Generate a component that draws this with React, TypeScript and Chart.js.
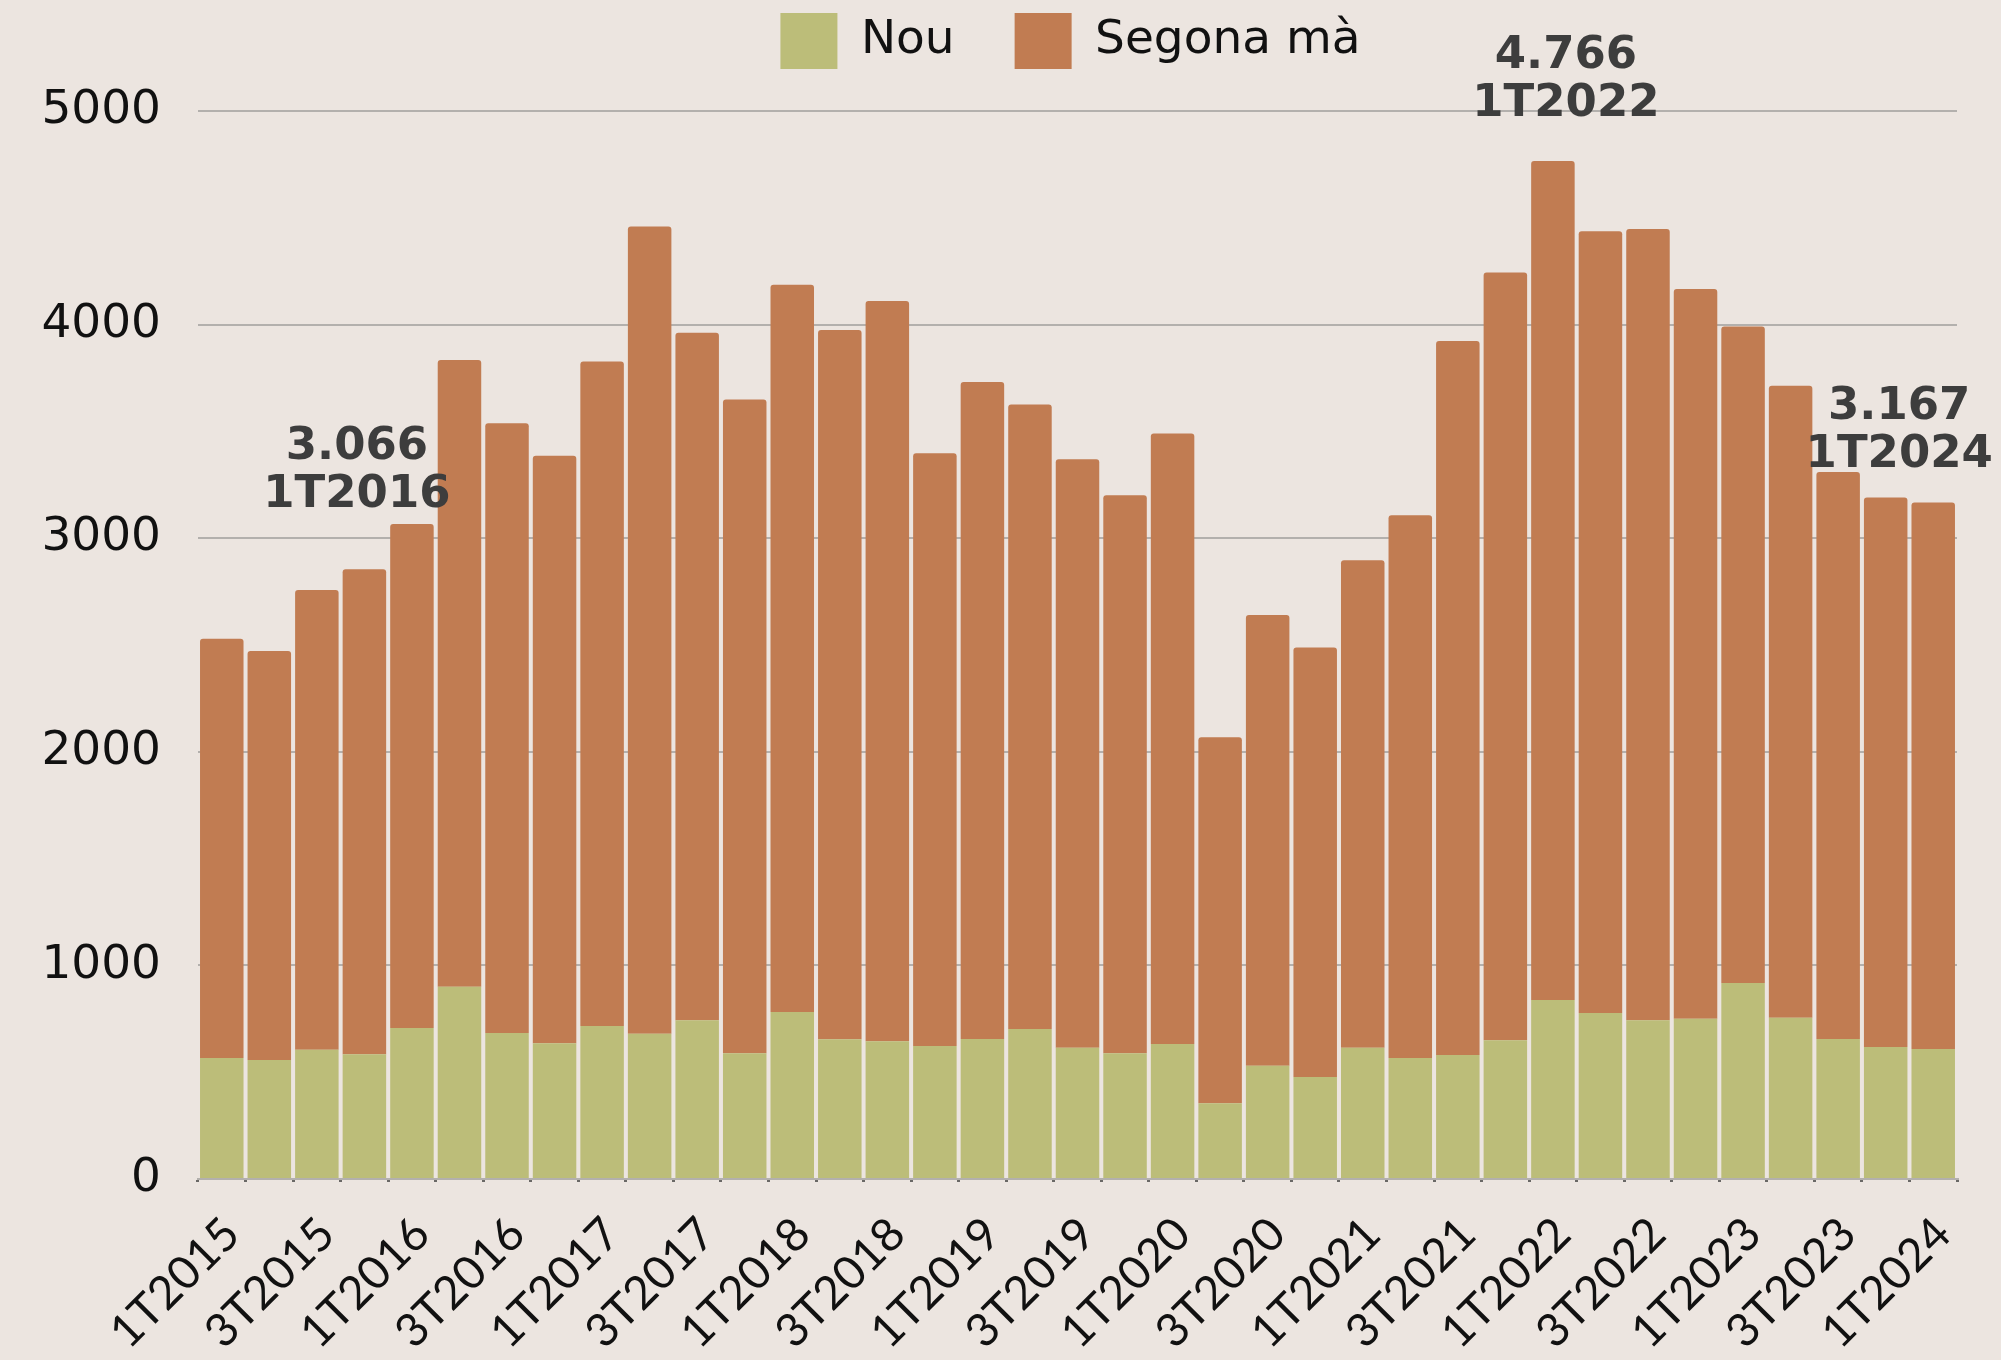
import React, { useEffect, useRef } from 'react';
import { Chart, registerables } from 'chart.js';

Chart.register(...registerables);

const categories = [
  '1T2015', '2T2015', '3T2015', '4T2015',
  '1T2016', '2T2016', '3T2016', '4T2016',
  '1T2017', '2T2017', '3T2017', '4T2017',
  '1T2018', '2T2018', '3T2018', '4T2018',
  '1T2019', '2T2019', '3T2019', '4T2019',
  '1T2020', '2T2020', '3T2020', '4T2020',
  '1T2021', '2T2021', '3T2021', '4T2021',
  '1T2022', '2T2022', '3T2022', '4T2022',
  '1T2023', '2T2023', '3T2023', '4T2023',
  '1T2024',
];

const nouValues = [
  566, 557, 605, 584,
  707, 900, 684, 636,
  716, 680, 743, 589,
  782, 654, 645, 623,
  655, 702, 614, 589,
  632, 355, 530, 478,
  614, 566, 580, 650,
  838, 777, 743, 750,
  918, 755, 655, 618,
  609,
];

const segonaValues = [
  1963, 1915, 2152, 2271,
  2359, 2934, 2854, 2750,
  3111, 3779, 3219, 3060,
  3405, 3321, 3466, 2775,
  3076, 2924, 2756, 2612,
  2858, 1713, 2110, 2010,
  2283, 2542, 3343, 3594,
  3928, 3660, 3704, 3417,
  3073, 2959, 2655, 2572,
  2558,
];

const seriesNames = ['Nou', 'Segona mà'];
const yTicks = [0, 1000, 2000, 3000, 4000, 5000];
const highlightIndices = [4, 28, 36];

// label placement (pixels relative to bar top / bar centre)
const highlightStyle = [
  { dx: -55, dyValue: 65, dyPeriod: 17 },
  { dx: 13, dyValue: 93, dyPeriod: 45 },
  { dx: -34, dyValue: 84, dyPeriod: 36 },
];

const BG = '#ece5e0';
const GREEN = '#bcbd79';
const ORANGE = '#c17c52';
const FONT_MAIN = '"DejaVu Sans"';
const FONT_X = 'Lato';

const formatThousands = (v: number) => {
  const th = Math.floor(v / 1000);
  const rest = v % 1000;
  return th > 0 ? `${th}.${String(rest).padStart(3, '0')}` : String(rest);
};

const bgPlugin = {
  id: 'bgFill',
  beforeDraw(chart: any) {
    const { ctx, width, height } = chart;
    ctx.save();
    ctx.fillStyle = BG;
    ctx.fillRect(0, 0, width, height);
    ctx.restore();
    // place legend centred over plot area, near top
    const lg = chart.legend;
    if (lg) {
      const ca = chart.chartArea;
      const target = (ca.left + ca.right) / 2 - 7;
      const shift = target - (lg.left + lg.right) / 2;
      lg.left += shift;
      lg.right += shift;
      const pad = lg.options.labels.padding;
      lg.top = 13 - pad;
    }
  },
};

const highlightPlugin = {
  id: 'highlights',
  afterDatasetsDraw(chart: any) {
    const { ctx } = chart;
    const x = chart.scales.x;
    const y = chart.scales.y;
    ctx.save();
    ctx.fillStyle = '#3d3d3d';
    ctx.textAlign = 'center';
    ctx.textBaseline = 'alphabetic';
    ctx.font = `bold 45px ${FONT_MAIN}`;
    highlightIndices.forEach((idx, i) => {
      const total = nouValues[idx] + segonaValues[idx];
      const st = highlightStyle[i];
      const px = x.getPixelForValue(idx) + st.dx;
      const py = y.getPixelForValue(total);
      ctx.fillText(formatThousands(total), px, py - st.dyValue);
      ctx.fillText(categories[idx], px, py - st.dyPeriod);
    });
    ctx.restore();
  },
};

export default function App() {
  const canvasRef = useRef<HTMLCanvasElement | null>(null);

  useEffect(() => {
    document.body.style.margin = '0';
    document.body.style.background = BG;
    const canvas = canvasRef.current;
    if (!canvas) return;
    const chart = new Chart(canvas, {
      type: 'bar',
      data: {
        labels: categories,
        datasets: [
          {
            label: seriesNames[0],
            data: nouValues,
            backgroundColor: GREEN,
            borderWidth: 0,
            barPercentage: 0.915,
            categoryPercentage: 1,
          },
          {
            label: seriesNames[1],
            data: segonaValues,
            backgroundColor: ORANGE,
            borderWidth: 0,
            borderRadius: { topLeft: 3, topRight: 3, bottomLeft: 0, bottomRight: 0 },
            borderSkipped: false,
            barPercentage: 0.915,
            categoryPercentage: 1,
          },
        ],
      },
      options: {
        animation: false,
        responsive: false,
        maintainAspectRatio: false,
        layout: { padding: { left: 0, right: 44, top: 0, bottom: 0 } },
        plugins: {
          legend: {
            display: true,
            position: 'top',
            align: 'center',
            maxHeight: 111,
            labels: {
              boxWidth: 57,
              boxHeight: 56,
              padding: 60,
              color: '#111',
              font: { family: FONT_MAIN, size: 47, weight: 'normal' },
            },
          },
          tooltip: { enabled: false },
          title: { display: false },
        },
        scales: {
          x: {
            stacked: true,
            offset: true,
            grid: {
              display: true,
              drawOnChartArea: false,
              drawTicks: true,
              tickLength: 3,
              color: '#6a6866',
              lineWidth: 3,
            },
            border: { display: true, color: '#b3b0ad', width: 2 },
            ticks: {
              autoSkip: false,
              maxRotation: 45,
              minRotation: 45,
              padding: 25,
              labelOffset: 10,
              color: '#111',
              font: { family: FONT_X, size: 46, weight: '400' },
              callback: (_v: any, i: number) => (i % 2 === 0 ? categories[i] : ''),
            },
            afterFit: (scale: any) => {
              scale.height = 181;
              scale.paddingLeft = 0;
              scale.paddingRight = 0;
            },
          },
          y: {
            stacked: true,
            min: yTicks[0],
            max: yTicks[yTicks.length - 1],
            afterBuildTicks: (scale: any) => {
              scale.ticks = yTicks.map((v) => ({ value: v }));
            },
            grid: {
              display: true,
              drawTicks: false,
              color: '#b3b0ad',
              lineWidth: 2,
            },
            border: { display: false },
            ticks: {
              padding: 37,
              color: '#111',
              font: { family: FONT_MAIN, size: 47, weight: 'normal' },
              callback: (v: any) => String(v),
            },
            afterFit: (scale: any) => {
              scale.width = 198;
            },
          },
        },
      },
      plugins: [bgPlugin, highlightPlugin],
    } as any);
    return () => chart.destroy();
  }, []);

  return (
    <div style={{ width: 2001, height: 1360, background: BG }}>
      <canvas ref={canvasRef} width={2001} height={1360} style={{ display: 'block', width: 2001, height: 1360 }} />
    </div>
  );
}
